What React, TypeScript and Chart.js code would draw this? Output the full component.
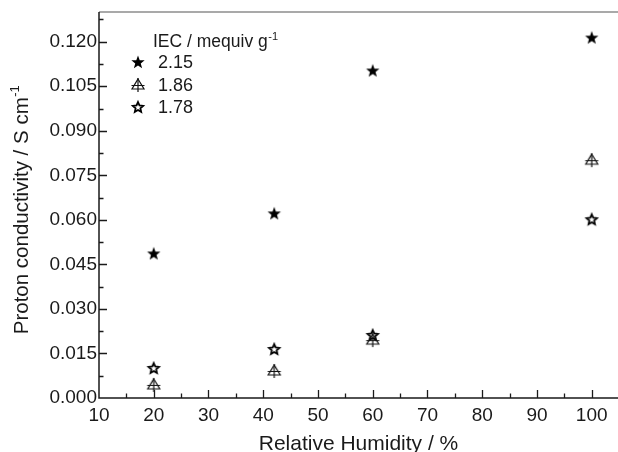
import React, { useEffect, useRef } from "react";
import { Chart, registerables } from "chart.js";

Chart.register(...registerables);

const humidity = [20, 42, 60, 100];
const iec215 = [0.0487, 0.0622, 0.1103, 0.1214];
const iec186 = [0.0044, 0.0091, 0.0195, 0.0801];
const iec178 = [0.0101, 0.0165, 0.0212, 0.0602];
const seriesLabels = ["2.15", "1.86", "1.78"];
const xTicks = [10, 20, 30, 40, 50, 60, 70, 80, 90, 100];
const yTicks = [0, 0.015, 0.03, 0.045, 0.06, 0.075, 0.09, 0.105, 0.12];
const xTitle = "Relative Humidity / %";
const yTitle = "Proton conductivity / S cm";
const legendTitle = "IEC / mequiv g";

const FONT = "'Liberation Sans', Arial, sans-serif";
const INK = "#1a1a1a";

function starPath(ctx: CanvasRenderingContext2D, cx: number, cy: number, ro: number, ri: number) {
  ctx.beginPath();
  for (let i = 0; i < 10; i++) {
    const r = i % 2 === 0 ? ro : ri;
    const a = -Math.PI / 2 + (i * Math.PI) / 5;
    const x = cx + r * Math.cos(a);
    const y = cy + r * Math.sin(a);
    if (i === 0) ctx.moveTo(x, y);
    else ctx.lineTo(x, y);
  }
  ctx.closePath();
}

function makeMarker(kind: string): HTMLCanvasElement {
  const c = document.createElement("canvas");
  c.width = 18;
  c.height = 18;
  const ctx = c.getContext("2d")!;
  const cx = 9, cy = 9;
  if (kind === "filled") {
    starPath(ctx, cx, cy + 0.5, 7, 2.9);
    ctx.fillStyle = "#000";
    ctx.fill();
  } else if (kind === "open") {
    starPath(ctx, cx, cy + 0.5, 5.4, 2.5);
    ctx.strokeStyle = "#000";
    ctx.lineWidth = 1.8;
    ctx.lineJoin = "miter";
    ctx.stroke();
  } else {
    ctx.strokeStyle = "#111";
    ctx.lineWidth = 1.2;
    ctx.beginPath();
    ctx.moveTo(cx, cy - 6);
    ctx.lineTo(cx + 6, cy + 4);
    ctx.lineTo(cx - 6, cy + 4);
    ctx.closePath();
    ctx.stroke();
    ctx.beginPath();
    ctx.moveTo(cx, cy - 7);
    ctx.lineTo(cx, cy + 7);
    ctx.moveTo(cx - 6.5, cy + 0.5);
    ctx.lineTo(cx + 6.5, cy + 0.5);
    ctx.stroke();
  }
  return c;
}

function drawSup(ctx: CanvasRenderingContext2D, main: string, sup: string, size: number, x: number, y: number, align: "left" | "center") {
  ctx.font = `${size}px ${FONT}`;
  const wMain = ctx.measureText(main).width;
  ctx.font = `${Math.round(size * 0.62)}px ${FONT}`;
  const wSup = ctx.measureText(sup).width;
  const total = wMain + wSup;
  const start = align === "center" ? x - total / 2 : x;
  ctx.textAlign = "left";
  ctx.textBaseline = "alphabetic";
  ctx.font = `${size}px ${FONT}`;
  ctx.fillText(main, start, y);
  ctx.font = `${Math.round(size * 0.62)}px ${FONT}`;
  ctx.fillText(sup, start + wMain + 0.5, y - size * 0.42);
}

export default function App() {
  const ref = useRef<HTMLCanvasElement | null>(null);
  useEffect(() => {
    if (!ref.current) return;
    const markers = [makeMarker("filled"), makeMarker("tri"), makeMarker("open")];
    const seriesData = [iec215, iec186, iec178];

    const decor = {
      id: "decor",
      afterDraw(chart: any) {
        const ctx: CanvasRenderingContext2D = chart.ctx;
        const { left, right, top, bottom } = chart.chartArea;
        const xs = chart.scales.x;
        const ys = chart.scales.y;
        ctx.save();
        // frame
        ctx.strokeStyle = "#555";
        ctx.lineWidth = 1.2;
        ctx.beginPath();
        ctx.moveTo(left, top);
        ctx.lineTo(right + 2, top);
        ctx.stroke();
        ctx.strokeStyle = INK;
        ctx.lineWidth = 1.5;
        ctx.beginPath();
        ctx.moveTo(left, top);
        ctx.lineTo(left, bottom);
        ctx.lineTo(right + 2, bottom);
        ctx.stroke();
        // ticks
        ctx.lineWidth = 1.3;
        ctx.beginPath();
        for (let i = 0; i < xTicks.length; i++) {
          const v = xTicks[i];
          const px = Math.round(xs.getPixelForValue(v)) + 0.5;
          if (i > 0) {
            ctx.moveTo(px, bottom);
            ctx.lineTo(px, bottom - 8);
          }
          const mpx = Math.round(xs.getPixelForValue(v + 5)) + 0.5;
          if (mpx < right) {
            ctx.moveTo(mpx, bottom);
            ctx.lineTo(mpx, bottom - 4.5);
          }
        }
        for (let i = 0; i < yTicks.length; i++) {
          const v = yTicks[i];
          const py = Math.round(ys.getPixelForValue(v)) + 0.5;
          if (i > 0) {
            ctx.moveTo(left, py);
            ctx.lineTo(left + 8, py);
          }
          const mpy = Math.round(ys.getPixelForValue(v + 0.0075)) + 0.5;
          if (mpy > top) {
            ctx.moveTo(left, mpy);
            ctx.lineTo(left + 4.5, mpy);
          }
        }
        ctx.stroke();
        // axis titles
        ctx.fillStyle = INK;
        ctx.font = `21px ${FONT}`;
        ctx.textAlign = "center";
        ctx.textBaseline = "alphabetic";
        ctx.fillText(xTitle, (left + right) / 2, 450);
        ctx.save();
        ctx.translate(28, 210);
        ctx.rotate(-Math.PI / 2);
        drawSup(ctx, yTitle, "-1", 20.5, 0, 0, "center");
        ctx.restore();
        // legend
        ctx.fillStyle = INK;
        drawSup(ctx, legendTitle, "-1", 17.5, 153, 47, "left");
        const rows = [62, 85, 107];
        for (let i = 0; i < 3; i++) {
          ctx.drawImage(markers[i], 138 - 9, rows[i] - 9);
          ctx.font = `18px ${FONT}`;
          ctx.textAlign = "left";
          ctx.textBaseline = "middle";
          ctx.fillStyle = INK;
          ctx.fillText(seriesLabels[i], 158, rows[i] + 1);
        }
        ctx.restore();
      },
    };

    const chart = new Chart(ref.current, {
      type: "scatter",
      data: {
        datasets: seriesData.map((arr, i) => ({
          label: seriesLabels[i],
          data: humidity.map((h, j) => ({ x: h, y: arr[j] })),
          pointStyle: markers[i] as any,
          pointRadius: 9,
          showLine: false,
        })),
      },
      options: {
        responsive: false,
        animation: false,
        layout: { autoPadding: false, padding: { top: 12, right: 0, left: 0, bottom: 0 } },
        plugins: { legend: { display: false }, tooltip: { enabled: false } },
        scales: {
          x: {
            type: "linear",
            min: 10,
            max: 104.8,
            grid: { display: false, drawTicks: false },
            border: { display: false },
            afterFit: (s: any) => {
              s.height = 54;
              s.paddingLeft = 0;
              s.paddingRight = 0;
            },
            ticks: {
              stepSize: 10,
              includeBounds: false,
              padding: 6,
              color: INK,
              font: { family: FONT, size: 19 },
              maxRotation: 0,
              callback: (v: any) => (xTicks.includes(Number(v)) ? String(v) : ""),
            },
          },
          y: {
            type: "linear",
            min: 0,
            max: 0.13,
            grid: { display: false, drawTicks: false },
            border: { display: false },
            afterFit: (s: any) => {
              s.width = 99;
              s.paddingTop = 0;
              s.paddingBottom = 0;
            },
            ticks: {
              stepSize: 0.015,
              includeBounds: false,
              padding: 2,
              color: INK,
              font: { family: FONT, size: 19 },
              callback: (v: any) => Number(v).toFixed(3),
            },
          },
        },
      },
      plugins: [decor],
    });
    return () => chart.destroy();
  }, []);
  return (
    <div style={{ position: "fixed", left: 0, top: 0, width: 618, height: 452, background: "#fff" }}>
      <canvas ref={ref} width={618} height={452} />
    </div>
  );
}
